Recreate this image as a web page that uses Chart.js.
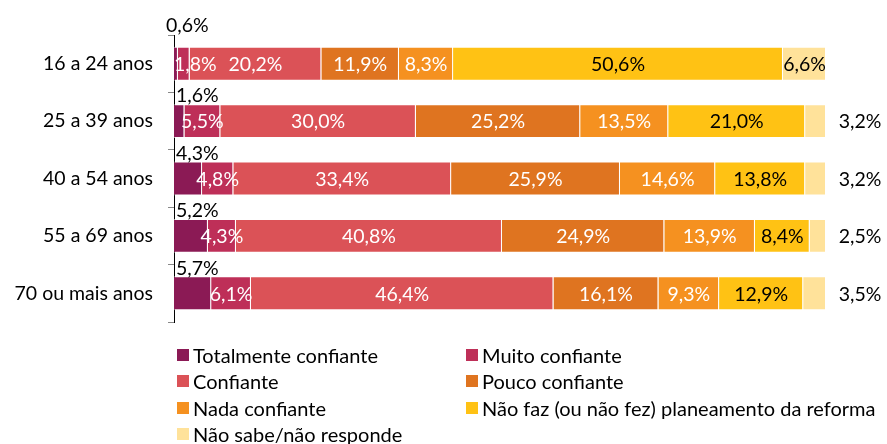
<!DOCTYPE html>
<html>
<head>
<meta charset="utf-8">
<script src="https://cdn.jsdelivr.net/npm/chart.js@4"></script>
<style>
  body { margin: 0; background: #fff; }
  #wrap { position: relative; width: 887px; height: 444px; }
  #legend {
    position: absolute; left: 177px; top: 342px;
    display: grid; grid-template-columns: 289px auto; grid-auto-rows: 26.3px;
    font-family: Lato, sans-serif; font-size: 20px; color: #000;
  }
  #legend div { display: flex; align-items: center; white-space: nowrap; }
  #legend span.box { width: 12px; height: 12px; margin-right: 4px; display: inline-block; }
</style>
</head>
<body>
<div id="wrap">
  <canvas id="chart" width="887" height="444"></canvas>
  <div id="legend"></div>
</div>
<script>
const ageGroups = ['16 a 24 anos', '25 a 39 anos', '40 a 54 anos', '55 a 69 anos', '70 ou mais anos'];
const seriesNames = ['Totalmente confiante', 'Muito confiante', 'Confiante', 'Pouco confiante',
  'Nada confiante', 'Não faz (ou não fez) planeamento da reforma', 'Não sabe/não responde'];
const totalmente = [0.6, 1.6, 4.3, 5.2, 5.7];
const muito = [1.8, 5.5, 4.8, 4.3, 6.1];
const confiante = [20.2, 30.0, 33.4, 40.8, 46.4];
const pouco = [11.9, 25.2, 25.9, 24.9, 16.1];
const nada = [8.3, 13.5, 14.6, 13.9, 9.3];
const naoFaz = [50.6, 21.0, 13.8, 8.4, 12.9];
const naoSabe = [6.6, 3.2, 3.2, 2.5, 3.5];
const colors = ['#8B1A55', '#BE2F58', '#DB5257', '#DF7420', '#F59120', '#FFC214', '#FFE29A'];
const labelColors = ['#000', '#fff', '#fff', '#fff', '#fff', '#000', '#000'];

const allSeries = [totalmente, muito, confiante, pouco, nada, naoFaz, naoSabe];
const fmt = v => v.toFixed(1).replace('.', ',') + '%';

const labelPlugin = {
  id: 'barLabels',
  afterDatasetsDraw(chart) {
    const ctx = chart.ctx;
    const area = chart.chartArea;
    ctx.save();
    ctx.font = '19.5px Lato, sans-serif';
    ctx.textBaseline = 'middle';
    chart.data.datasets.forEach((ds, i) => {
      const meta = chart.getDatasetMeta(i);
      meta.data.forEach((bar, j) => {
        const v = ds.data[j];
        const txt = fmt(v);
        const w = ctx.measureText(txt).width;
        const x0 = Math.min(bar.base, bar.x), x1 = Math.max(bar.base, bar.x);
        const top = bar.y - bar.height / 2;
        ctx.fillStyle = labelColors[i];
        ctx.textAlign = 'left';
        if (i === 0) {
          if (j === 0) ctx.fillText(txt, area.left - 8, area.top - 9);
          else ctx.fillText(txt, area.left + 2, top - 8);
          return;
        }
        let cx = (x0 + x1) / 2;
        if (i === 6 && (x1 - x0) < w * 0.9) {
          cx = area.right + 34;
        }
        let left = cx - w / 2;
        if (left < area.left) left = area.left;
        ctx.fillText(txt, left, bar.y + 1);
      });
    });
    ctx.restore();
  }
};

new Chart(document.getElementById('chart'), {
  type: 'bar',
  data: {
    labels: ageGroups,
    datasets: allSeries.map((d, i) => ({
      label: seriesNames[i],
      data: d,
      backgroundColor: colors[i],
      borderColor: 'rgba(255,255,255,0.6)',
      borderWidth: 1,
      categoryPercentage: 1,
      barPercentage: 0.59
    }))
  },
  options: {
    indexAxis: 'y',
    responsive: false,
    animation: false,
    layout: { padding: { left: 0, right: 61, top: 35, bottom: 122 } },
    plugins: { legend: { display: false }, tooltip: { enabled: false } },
    scales: {
      x: { stacked: true, min: 0, max: 100, display: false },
      y: {
        stacked: true,
        afterFit: s => { s.width = 174; },
        border: { display: true, color: '#000', width: 1 },
        grid: { offset: true, drawOnChartArea: false, drawTicks: true, tickLength: 6, color: '#888' },
        ticks: { padding: 15, color: '#000', font: { family: 'Lato', size: 19.5 } }
      }
    }
  },
  plugins: [labelPlugin]
});

const legend = document.getElementById('legend');
seriesNames.forEach((name, i) => {
  const item = document.createElement('div');
  item.innerHTML = '<span class="box" style="background:' + colors[i] + '"></span>' + name;
  legend.appendChild(item);
});
</script>
</body>
</html>
